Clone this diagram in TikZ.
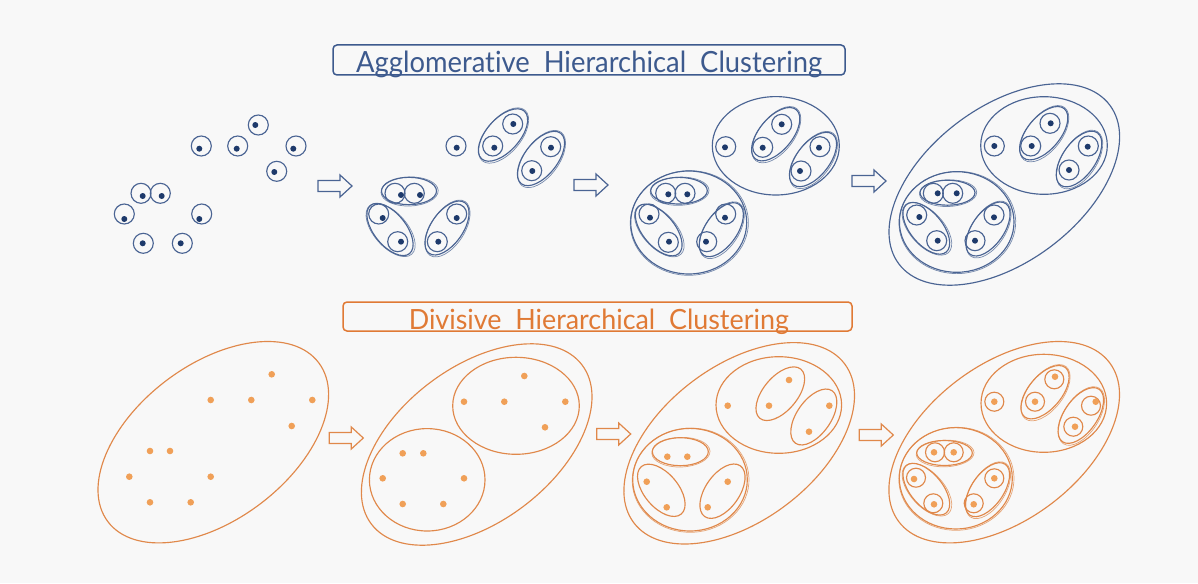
\documentclass[tikz,border=0pt]{standalone}
\usepackage{fontspec}
\setmainfont{Lato}[Ligatures={NoCommon}]
\definecolor{bgc}{HTML}{F8F8F8}
\definecolor{bline}{HTML}{4A6493}
\definecolor{bdot}{HTML}{1E3A6B}
\definecolor{btitle}{HTML}{3D5A8E}
\definecolor{oline}{HTML}{E0884A}
\definecolor{odot}{HTML}{F0A058}
\definecolor{otitle}{HTML}{E07A35}
\colorlet{linec}{bline}
\colorlet{dotc}{bdot}
\tikzset{
  ln/.style={draw=linec, line width=1.15pt},
  ln2/.style={draw=linec, draw opacity=0.75, line width=0.7pt},
  dt/.style={fill=dotc},
  titlebox/.style={line width=1.5pt, rounded corners=4pt},
  arrowline/.style={draw=linec, line width=1.2pt, line join=miter}
}
\newcommand\myoval[5]{\draw[ln, rotate around={#5:(#1,#2)}] (#1,#2) ellipse [x radius=#3, y radius=#4];}
\newcommand\myovalD[5]{\myoval{#1}{#2}{#3}{#4}{#5}%
  \draw[ln2, rotate around={#5+2:(#1+0.6,#2+0.5)}] (#1+0.6,#2+0.5) ellipse [x radius=#3+1.1, y radius=#4+0.8];}
\newcommand\ringdot[4]{\draw[ln] (#1,#2) circle [radius=10]; \fill[dt] (#3,#4) circle [radius=3];}
\newcommand\pdot[2]{\fill[dt] (#1,#2) circle [radius=3.3];}
\newcommand\barrow[2]{\draw[arrowline] (#1-34,#2-5.5) -- (#1-12,#2-5.5) -- (#1-12,#2-11) -- (#1,#2) -- (#1-12,#2+11) -- (#1-12,#2+5.5) -- (#1-34,#2+5.5) -- cycle;}
\begin{document}
\begin{tikzpicture}[x=1pt,y=-1pt]
\fill[bgc] (0,0) rectangle (1198,583);
\useasboundingbox (0,0) rectangle (1198,583);

% ---------- titles ----------
\draw[titlebox, draw=btitle] (333,45) rectangle (845,75);
\node[anchor=base west, inner sep=0pt, text=btitle] (t1) at (356,72.5)
  {\resizebox{466pt}{21.5pt}{Agglomerative\ \ Hierarchical\ \ Clustering}};
\draw[titlebox, draw=otitle] (343,302) rectangle (852,331);
\node[anchor=base west, inner sep=0pt, text=otitle] (t2) at (408.6,329.5)
  {\resizebox{380pt}{20.5pt}{Divisive\ \ Hierarchical\ \ Clustering}};

% ---------- agglomerative (blue) ----------
\colorlet{linec}{bline}\colorlet{dotc}{bdot}
% stage 1
\foreach \a/\b/\c/\d in {201.3/146/199.3/148.7, 237.7/146/236.7/148.7, 258.3/125/255.3/125,
  296/146/293.3/148.7, 276.7/171.3/274.3/172, 141/193.3/142.7/196, 160.3/193.3/161.7/196,
  124.3/214/124.3/219, 201.7/214/199.3/219, 143.3/243.3/142.7/243.3, 182.3/243.3/180.7/243.3}
  {\ringdot{\a}{\b}{\c}{\d}}
\barrow{352}{186}
% stage 2
\foreach \a/\b/\c/\d in {395/193.3/401/195, 414.3/193.3/420/195,
  378.7/214/382.7/218, 397.7/241.7/401/241.7,
  456.7/214/456.7/218, 437.3/241.7/438.3/241.7,
  456/146/456.7/147.7,
  492.7/146/494.3/147.7, 512.7/124/513.3/124,
  550.7/146.7/551/147.7, 531.7/170.7/532.3/171}
  {\ringdot{\a}{\b}{\c}{\d}}
\myovalD{409}{191}{27.5}{13.7}{0}
\myovalD{390}{229.5}{31}{16}{-51}
\myovalD{447}{228}{31}{16}{55}
\myovalD{503}{135}{32}{16.5}{48}
\myovalD{541}{158.5}{32}{16.5}{52}
\barrow{608}{185}
% stage 3
\foreach \a/\b/\c/\d in {665.7/193.3/668.3/194.3, 685/193.3/687.3/194.3,
  649/214/650/217.7, 668.3/242.3/669/241.7,
  725.7/214/725/217.7, 706.7/241.7/706/241.7,
  725.7/146.7/725/147.3,
  762.7/147.3/762.7/147.7, 781.7/124.3/781.7/124.3,
  820/146.7/819/147.7, 801/171/800/171}
  {\ringdot{\a}{\b}{\c}{\d}}
\myovalD{688.7}{222.5}{58}{51.5}{0}
\myoval{775.8}{145.8}{63.5}{49.2}{0}
\myovalD{679}{190.7}{28.3}{13.3}{0}
\myovalD{658.7}{230}{31}{16}{-50}
\myovalD{721.3}{229.7}{31}{16}{55}
\myovalD{775.7}{134.2}{32}{16.5}{50}
\myovalD{813}{159.5}{32}{16.5}{52}
\barrow{886}{181}
% stage 4
\foreach \a/\b/\c/\d in {933.3/193.3/937.7/193.3, 952.7/193.3/956.7/193.3,
  916.7/215/919.3/217, 936.7/240.7/937.7/240.7,
  994/215/994/217.3, 975/240.7/975/240.7,
  994.3/146/994.3/146,
  1030.7/146/1031.7/146, 1050/123.3/1050.7/123.3,
  1088.3/146/1087.7/146.7, 1069/170/1069/170}
  {\ringdot{\a}{\b}{\c}{\d}}
\myoval{1004.3}{184.5}{132}{77.5}{37}
\myoval{1044}{145.5}{63.3}{48.8}{0}
\myovalD{956.7}{222}{57.3}{50.3}{0}
\myovalD{947.5}{192.7}{27.5}{12.5}{0}
\myovalD{926.3}{228.3}{31}{16}{-50}
\myovalD{988}{229}{31}{16}{55}
\myovalD{1043.7}{133.2}{32}{16.5}{50}
\myovalD{1079}{159}{32}{16.5}{55}

% ---------- divisive (orange) ----------
\colorlet{linec}{oline}\colorlet{dotc}{odot}
% stage 1
\myoval{213.3}{442.2}{132}{77.5}{37}
\foreach \a/\b in {271.7/374.3, 210.7/400, 251.3/400, 312.3/400, 291.7/426, 150/451,
  170/451, 129.3/476.7, 210.7/476.7, 150/502.3, 190.7/502.3}
  {\pdot{\a}{\b}}
\barrow{363.3}{438}
% stage 2
\myoval{476.7}{444.5}{132}{77.5}{37}
\myoval{516}{405.8}{63.3}{48.5}{0}
\myoval{427.2}{479.8}{57.8}{51.2}{0}
\foreach \a/\b in {524.3/376, 464/401.7, 504.3/401.7, 565.3/401.7, 545/427.3,
  402.7/453.3, 423.3/453.3, 382.7/478.3, 464/478.3, 402.7/504, 443.3/504}
  {\pdot{\a}{\b}}
\barrow{630.7}{434}
% stage 3
\myoval{739.2}{443.3}{132}{77.5}{37}
\myoval{778.8}{405}{62.8}{48.3}{0}
\myovalD{690}{479.7}{57.3}{51.3}{0}
\myovalD{680.3}{451.7}{28}{14}{0}
\myoval{661.3}{490.3}{31}{17}{-50}
\myoval{722.5}{491.2}{31}{17}{55}
\myoval{780.3}{393.7}{32}{17}{50}
\myoval{813.8}{417}{32}{17}{55}
\foreach \a/\b in {727.7/405.7, 789/380, 769/405.7, 829.3/405.7, 809/431.7,
  667.3/456.7, 687.3/456.7, 646.7/481.7, 666.7/507.3, 727.7/481.7, 707.7/507.3}
  {\pdot{\a}{\b}}
\barrow{893.3}{435}
% stage 4
\myoval{1004.2}{442.2}{132}{77.5}{37}
\myoval{1043.8}{403.3}{62.8}{49}{0}
\myovalD{955.8}{478.3}{56.5}{50.7}{0}
\myovalD{944.5}{453}{27.8}{12.5}{0}
\myovalD{926.3}{489.2}{31}{16}{-50}
\myovalD{987.5}{489.7}{31}{16}{55}
\myovalD{1045}{392.2}{32}{16.5}{50}
\myovalD{1080.8}{415.5}{32}{16.5}{55}
\foreach \a/\b/\c/\d in {994.3/401.7/994.3/401.7, 1054.3/379.3/1055/376.7, 1035/401.7/1035/401.7,
  1091/405.7/1095.7/401.7, 1073.3/426.7/1075/426.7, 935/452.3/934/452.3, 953.7/452.3/953.7/452.3,
  916/477.7/914/479, 933.3/503.3/934/504.3, 994.3/478.3/994.3/478.3, 973.7/503.3/973.7/504.3}
  {\draw[ln] (\a,\b) circle [radius=9.5]; \pdot{\c}{\d}}
\end{tikzpicture}
\end{document}
